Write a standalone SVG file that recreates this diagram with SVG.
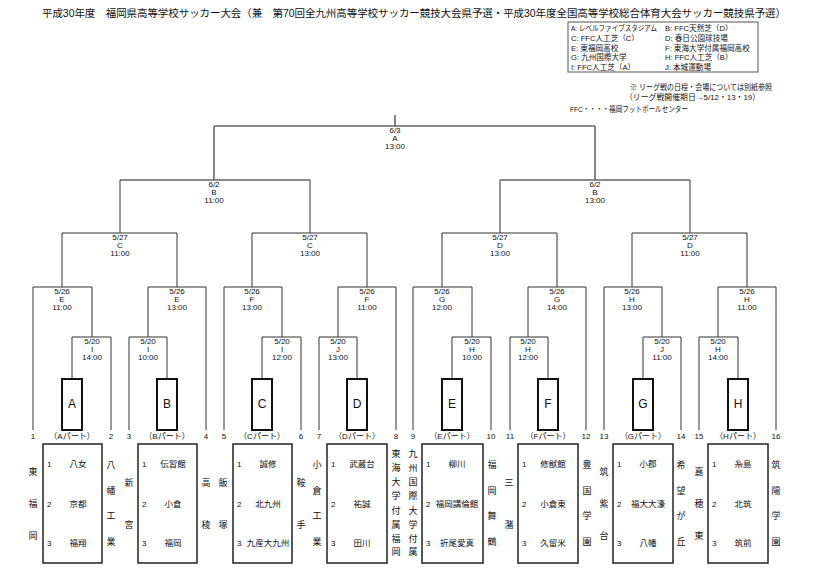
<svg xmlns="http://www.w3.org/2000/svg" width="817" height="587" viewBox="0 0 817 587">
<style>
text{font-family:"Liberation Sans","Noto Sans CJK JP",sans-serif;fill:#111}
.t{font-size:10.5px}
.lg{font-size:7.6px}
.nt{font-size:8px}
.m{font-size:8px;text-anchor:middle}
.n{font-size:8px;text-anchor:middle}
.p{font-size:8px;text-anchor:middle}
.bl{font-size:12px;text-anchor:middle}
.tm{font-size:8.5px;text-anchor:middle}
.no{font-size:8px}
.sd{font-size:9px;text-anchor:middle}
.ln{stroke:#333;stroke-width:1;fill:none}
.lt{stroke:#666;stroke-width:1.6;fill:none}
.pb{stroke:#111;stroke-width:2;fill:#fff}
.gb{stroke:#222;stroke-width:1.5;fill:#fff}
.lgb{stroke:#555;stroke-width:1;fill:#fff}
</style>

<g id="title">
<text class="t" x="42" y="17" textLength="744">平成30年度　福岡県高等学校サッカー大会（兼　第70回全九州高等学校サッカー競技大会県予選・平成30年度全国高等学校総合体育大会サッカー競技県予選）</text>
</g>

<g id="legend">
<rect class="lgb" x="568" y="22" width="190" height="50"/>
<text class="lg" x="571" y="31" textLength="86" lengthAdjust="spacingAndGlyphs">A: レベルファイブスタジアム</text>
<text class="lg" x="665" y="31">B: FFC天然芝（D）</text>
<text class="lg" x="571" y="41">C: FFC人工芝（C）</text>
<text class="lg" x="665" y="41">D: 春日公園球技場</text>
<text class="lg" x="571" y="51">E: 東福岡高校</text>
<text class="lg" x="665" y="51">F: 東海大学付属福岡高校</text>
<text class="lg" x="571" y="60">G: 九州国際大学</text>
<text class="lg" x="665" y="60">H: FFC人工芝（B）</text>
<text class="lg" x="571" y="70">I: FFC人工芝（A）</text>
<text class="lg" x="665" y="70">J: 本城運動場</text>
</g>

<g id="notes">
<text class="nt" x="630" y="90" textLength="142" lengthAdjust="spacingAndGlyphs">※ リーグ戦の日程・会場については別紙参照</text>
<text class="nt" x="625" y="100" textLength="135" lengthAdjust="spacingAndGlyphs">（リーグ戦開催期日→5/12・13・19）</text>
<text class="nt" x="570" y="112" textLength="118" lengthAdjust="spacingAndGlyphs">FFC・・・・福岡フットボールセンター</text>
</g>

<g id="connectors">
<path class="lt" d="M395 115V126M214 126H595M214 126V180M595 126V180M120 180H310M500 180H690"/>
<path class="ln" d="M120 180V233M310 180V233M500 180V233M690 180V233
M62 233H177M252 233H367M442 233H557M632 233H747
M62 233V287M177 233V287M252 233V287M367 233V287M442 233V287M557 233V287M632 233V287M747 233V287
M33 287H92M148 287H206M224 287H282M338 287H396M413 287H472M528 287H586M604 287H662M718 287H776
M92 287V337M148 287V337M282 287V337M338 287V337M472 287V337M528 287V337M662 287V337M718 287V337
M72 337H111M129 337H167M262 337H301M319 337H357M452 337H491M510 337H548M643 337H681M699 337H738
M72 337V379M167 337V379M262 337V379M357 337V379M452 337V379M548 337V379M643 337V379M738 337V379"/>
<path class="ln" stroke="#555" d="M33 287V430M206 287V430M224 287V430M396 287V430M413 287V430M586 287V430M604 287V430M776 287V430
M111 337V430M129 337V430M301 337V430M319 337V430M491 337V430M510 337V430M681 337V430M699 337V430"/>
</g>

<g id="match-final"><text class="m" x="395" y="133">6/3</text><text class="m" x="395" y="141">A</text><text class="m" x="395" y="149">13:00</text></g>
<g id="match-sf1"><text class="m" x="214" y="187">6/2</text><text class="m" x="214" y="195">B</text><text class="m" x="214" y="203">11:00</text></g>
<g id="match-sf2"><text class="m" x="595" y="187">6/2</text><text class="m" x="595" y="195">B</text><text class="m" x="595" y="203">13:00</text></g>
<g id="match-qf1"><text class="m" x="120" y="240">5/27</text><text class="m" x="120" y="248">C</text><text class="m" x="120" y="256">11:00</text></g>
<g id="match-qf2"><text class="m" x="310" y="240">5/27</text><text class="m" x="310" y="248">C</text><text class="m" x="310" y="256">13:00</text></g>
<g id="match-qf3"><text class="m" x="500" y="240">5/27</text><text class="m" x="500" y="248">D</text><text class="m" x="500" y="256">13:00</text></g>
<g id="match-qf4"><text class="m" x="690" y="240">5/27</text><text class="m" x="690" y="248">D</text><text class="m" x="690" y="256">11:00</text></g>

<g id="match-r2-1"><text class="m" x="62" y="294">5/26</text><text class="m" x="62" y="302">E</text><text class="m" x="62" y="310">11:00</text></g>
<g id="match-r2-2"><text class="m" x="177" y="294">5/26</text><text class="m" x="177" y="302">E</text><text class="m" x="177" y="310">13:00</text></g>
<g id="match-r2-3"><text class="m" x="252" y="294">5/26</text><text class="m" x="252" y="302">F</text><text class="m" x="252" y="310">13:00</text></g>
<g id="match-r2-4"><text class="m" x="367" y="294">5/26</text><text class="m" x="367" y="302">F</text><text class="m" x="367" y="310">11:00</text></g>
<g id="match-r2-5"><text class="m" x="442" y="294">5/26</text><text class="m" x="442" y="302">G</text><text class="m" x="442" y="310">12:00</text></g>
<g id="match-r2-6"><text class="m" x="557" y="294">5/26</text><text class="m" x="557" y="302">G</text><text class="m" x="557" y="310">14:00</text></g>
<g id="match-r2-7"><text class="m" x="632" y="294">5/26</text><text class="m" x="632" y="302">H</text><text class="m" x="632" y="310">13:00</text></g>
<g id="match-r2-8"><text class="m" x="747" y="294">5/26</text><text class="m" x="747" y="302">H</text><text class="m" x="747" y="310">11:00</text></g>

<g id="match-r1-1"><text class="m" x="92" y="344">5/20</text><text class="m" x="92" y="352">I</text><text class="m" x="92" y="360">14:00</text></g>
<g id="match-r1-2"><text class="m" x="148" y="344">5/20</text><text class="m" x="148" y="352">I</text><text class="m" x="148" y="360">10:00</text></g>
<g id="match-r1-3"><text class="m" x="282" y="344">5/20</text><text class="m" x="282" y="352">I</text><text class="m" x="282" y="360">12:00</text></g>
<g id="match-r1-4"><text class="m" x="338" y="344">5/20</text><text class="m" x="338" y="352">J</text><text class="m" x="338" y="360">13:00</text></g>
<g id="match-r1-5"><text class="m" x="472" y="344">5/20</text><text class="m" x="472" y="352">H</text><text class="m" x="472" y="360">10:00</text></g>
<g id="match-r1-6"><text class="m" x="528" y="344">5/20</text><text class="m" x="528" y="352">H</text><text class="m" x="528" y="360">12:00</text></g>
<g id="match-r1-7"><text class="m" x="662" y="344">5/20</text><text class="m" x="662" y="352">J</text><text class="m" x="662" y="360">11:00</text></g>
<g id="match-r1-8"><text class="m" x="718" y="344">5/20</text><text class="m" x="718" y="352">H</text><text class="m" x="718" y="360">14:00</text></g>

<g id="part-A"><rect class="pb" x="62" y="379" width="20" height="51"/><text class="bl" x="72" y="408">A</text><text class="p" x="72" y="439">（Aパート）</text></g>
<g id="part-B"><rect class="pb" x="157" y="379" width="20" height="51"/><text class="bl" x="167" y="408">B</text><text class="p" x="167" y="439">（Bパート）</text></g>
<g id="part-C"><rect class="pb" x="252" y="379" width="20" height="51"/><text class="bl" x="262" y="408">C</text><text class="p" x="262" y="439">（Cパート）</text></g>
<g id="part-D"><rect class="pb" x="347" y="379" width="20" height="51"/><text class="bl" x="357" y="408">D</text><text class="p" x="357" y="439">（Dパート）</text></g>
<g id="part-E"><rect class="pb" x="442" y="379" width="20" height="51"/><text class="bl" x="452" y="408">E</text><text class="p" x="452" y="439">（Eパート）</text></g>
<g id="part-F"><rect class="pb" x="538" y="379" width="20" height="51"/><text class="bl" x="548" y="408">F</text><text class="p" x="548" y="439">（Fパート）</text></g>
<g id="part-G"><rect class="pb" x="633" y="379" width="20" height="51"/><text class="bl" x="643" y="408">G</text><text class="p" x="643" y="439">（Gパート）</text></g>
<g id="part-H"><rect class="pb" x="728" y="379" width="20" height="51"/><text class="bl" x="738" y="408">H</text><text class="p" x="738" y="439">（Hパート）</text></g>

<g id="slot-numbers">
<text class="n" x="33" y="439">1</text><text class="n" x="111" y="439">2</text><text class="n" x="129" y="439">3</text><text class="n" x="206" y="439">4</text>
<text class="n" x="224" y="439">5</text><text class="n" x="301" y="439">6</text><text class="n" x="319" y="439">7</text><text class="n" x="396" y="439">8</text>
<text class="n" x="413" y="439">9</text><text class="n" x="491" y="439">10</text><text class="n" x="510" y="439">11</text><text class="n" x="586" y="439">12</text>
<text class="n" x="604" y="439">13</text><text class="n" x="681" y="439">14</text><text class="n" x="699" y="439">15</text><text class="n" x="776" y="439">16</text>
</g>

<g id="group-A"><rect class="gb" x="43" y="444" width="59" height="119"/>
<text class="no" x="47" y="467">1</text><text class="tm" x="78" y="467">八女</text>
<text class="no" x="47" y="507">2</text><text class="tm" x="78" y="507">京都</text>
<text class="no" x="47" y="546">3</text><text class="tm" x="78" y="546">福翔</text></g>
<g id="group-B"><rect class="gb" x="138" y="444" width="59" height="119"/>
<text class="no" x="142" y="467">1</text><text class="tm" x="173" y="467">伝習館</text>
<text class="no" x="142" y="507">2</text><text class="tm" x="173" y="507">小倉</text>
<text class="no" x="142" y="546">3</text><text class="tm" x="173" y="546">福岡</text></g>
<g id="group-C"><rect class="gb" x="233" y="444" width="59" height="119"/>
<text class="no" x="237" y="467">1</text><text class="tm" x="268" y="467">誠修</text>
<text class="no" x="237" y="507">2</text><text class="tm" x="268" y="507">北九州</text>
<text class="no" x="237" y="546">3</text><text class="tm" x="268" y="546">九産大九州</text></g>
<g id="group-D"><rect class="gb" x="327" y="444" width="60" height="119"/>
<text class="no" x="331" y="467">1</text><text class="tm" x="362" y="467">武蔵台</text>
<text class="no" x="331" y="507">2</text><text class="tm" x="362" y="507">祐誠</text>
<text class="no" x="331" y="546">3</text><text class="tm" x="362" y="546">田川</text></g>
<g id="group-E"><rect class="gb" x="422" y="444" width="61" height="119"/>
<text class="no" x="426" y="467">1</text><text class="tm" x="457" y="467">柳川</text>
<text class="no" x="426" y="507">2</text><text class="tm" x="457" y="507">福岡講倫館</text>
<text class="no" x="426" y="546">3</text><text class="tm" x="457" y="546">折尾愛真</text></g>
<g id="group-F"><rect class="gb" x="518" y="444" width="60" height="119"/>
<text class="no" x="522" y="467">1</text><text class="tm" x="553" y="467">修猷館</text>
<text class="no" x="522" y="507">2</text><text class="tm" x="553" y="507">小倉東</text>
<text class="no" x="522" y="546">3</text><text class="tm" x="553" y="546">久留米</text></g>
<g id="group-G"><rect class="gb" x="613" y="444" width="60" height="119"/>
<text class="no" x="617" y="467">1</text><text class="tm" x="648" y="467">小郡</text>
<text class="no" x="617" y="507">2</text><text class="tm" x="648" y="507">福大大濠</text>
<text class="no" x="617" y="546">3</text><text class="tm" x="648" y="546">八幡</text></g>
<g id="group-H"><rect class="gb" x="708" y="444" width="60" height="119"/>
<text class="no" x="712" y="467">1</text><text class="tm" x="743" y="467">糸島</text>
<text class="no" x="712" y="507">2</text><text class="tm" x="743" y="507">北筑</text>
<text class="no" x="712" y="546">3</text><text class="tm" x="743" y="546">筑前</text></g>

<g id="team-1"><text class="sd"><tspan x="33" y="475">東</tspan><tspan x="33" y="507">福</tspan><tspan x="33" y="539">岡</tspan></text></g>
<g id="team-2"><text class="sd"><tspan x="111" y="468">八</tspan><tspan x="111" y="494">幡</tspan><tspan x="111" y="519">工</tspan><tspan x="111" y="545">業</tspan></text></g>
<g id="team-3"><text class="sd"><tspan x="129" y="486">新</tspan><tspan x="129" y="528">宮</tspan></text></g>
<g id="team-4"><text class="sd"><tspan x="206" y="486">高</tspan><tspan x="206" y="528">稜</tspan></text></g>
<g id="team-5"><text class="sd"><tspan x="223" y="486">飯</tspan><tspan x="223" y="528">塚</tspan></text></g>
<g id="team-6"><text class="sd"><tspan x="301" y="486">鞍</tspan><tspan x="301" y="528">手</tspan></text></g>
<g id="team-7"><text class="sd"><tspan x="317" y="468">小</tspan><tspan x="317" y="494">倉</tspan><tspan x="317" y="519">工</tspan><tspan x="317" y="545">業</tspan></text></g>
<g id="team-8"><text class="sd"><tspan x="396" y="457">東</tspan><tspan x="396" y="471">海</tspan><tspan x="396" y="485">大</tspan><tspan x="396" y="499">学</tspan><tspan x="396" y="514">付</tspan><tspan x="396" y="528">属</tspan><tspan x="396" y="542">福</tspan><tspan x="396" y="555">岡</tspan></text></g>
<g id="team-9"><text class="sd"><tspan x="413" y="457">九</tspan><tspan x="413" y="471">州</tspan><tspan x="413" y="485">国</tspan><tspan x="413" y="499">際</tspan><tspan x="413" y="514">大</tspan><tspan x="413" y="528">学</tspan><tspan x="413" y="542">付</tspan><tspan x="413" y="555">属</tspan></text></g>
<g id="team-10"><text class="sd"><tspan x="492" y="468">福</tspan><tspan x="492" y="494">岡</tspan><tspan x="492" y="519">舞</tspan><tspan x="492" y="545">鶴</tspan></text></g>
<g id="team-11"><text class="sd"><tspan x="509" y="486">三</tspan><tspan x="509" y="528">潴</tspan></text></g>
<g id="team-12"><text class="sd"><tspan x="587" y="468">豊</tspan><tspan x="587" y="494">国</tspan><tspan x="587" y="519">学</tspan><tspan x="587" y="545">園</tspan></text></g>
<g id="team-13"><text class="sd"><tspan x="604" y="475">筑</tspan><tspan x="604" y="507">紫</tspan><tspan x="604" y="539">台</tspan></text></g>
<g id="team-14"><text class="sd"><tspan x="681" y="468">希</tspan><tspan x="681" y="494">望</tspan><tspan x="681" y="519">が</tspan><tspan x="681" y="545">丘</tspan></text></g>
<g id="team-15"><text class="sd"><tspan x="699" y="475">嘉</tspan><tspan x="699" y="507">穂</tspan><tspan x="699" y="539">東</tspan></text></g>
<g id="team-16"><text class="sd"><tspan x="776" y="468">筑</tspan><tspan x="776" y="494">陽</tspan><tspan x="776" y="519">学</tspan><tspan x="776" y="545">園</tspan></text></g>
</svg>
